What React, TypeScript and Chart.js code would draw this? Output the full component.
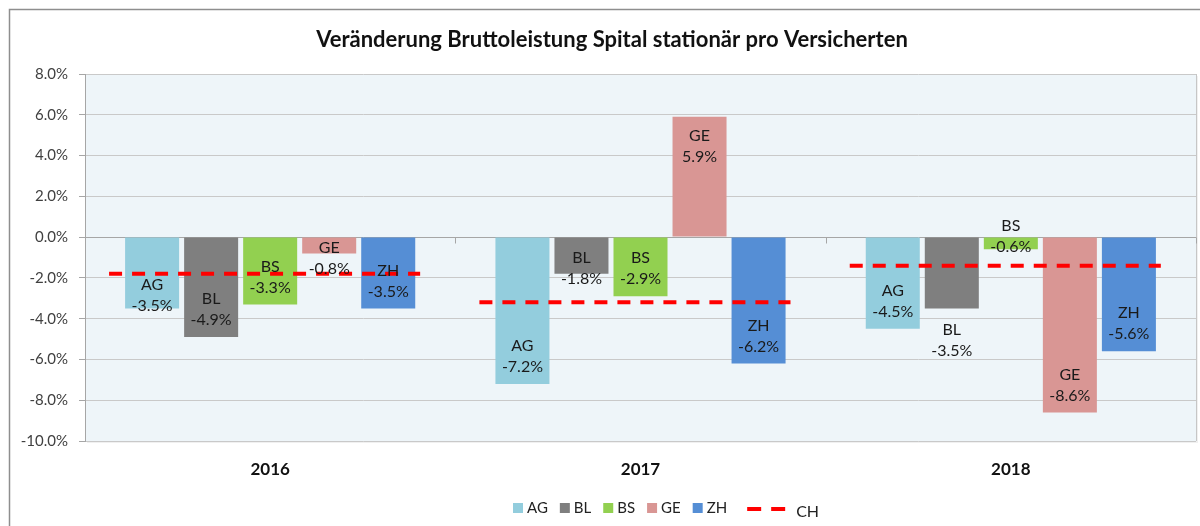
import React, { useEffect, useRef } from "react";
import { Chart, registerables } from "chart.js";

Chart.register(...registerables);

const years = ["2016", "2017", "2018"];
const cantons = ["AG", "BL", "BS", "GE", "ZH"];
const valuesAG = [-3.5, -7.2, -4.5];
const valuesBL = [-4.9, -1.8, -3.5];
const valuesBS = [-3.3, -2.9, -0.6];
const valuesGE = [-0.8, 5.9, -8.6];
const valuesZH = [-3.5, -6.2, -5.6];
const valuesCH = [-1.8, -3.2, -1.4];
const yTicksMin = -10;
const yTicksMax = 8;

const title = "Veränderung Bruttoleistung Spital stationär pro Versicherten";

const colors = ["#93CDDD", "#7F7F7F", "#92D050", "#D99694", "#558ED5"];
const chColor = "#FF0000";
const FONT = "Lato, 'Open Sans', sans-serif";

// manual label nudges (px, down positive) relative to inside-end placement
const labelNudge: Record<string, number> = {
  "AG|0": 14,
  "GE|0": 32,
  "BL|1": 22,
  "BL|2": 59,
  "BS|2": 14,
};

const seriesValues = [valuesAG, valuesBL, valuesBS, valuesGE, valuesZH];

export default function App() {
  const ref = useRef<HTMLCanvasElement | null>(null);

  useEffect(() => {
    document.body.style.margin = "0";
    const canvas = ref.current;
    if (!canvas) return;

    // CH average drawn as a short dashed segment across each year group
    const chLine: any[] = [];
    valuesCH.forEach((v, i) => {
      chLine.push({ x: i - 0.435, y: v });
      chLine.push({ x: i + 0.405, y: v });
      if (i < valuesCH.length - 1) chLine.push({ x: i + 0.5, y: null });
    });

    const frame = {
      id: "frame",
      beforeDraw(chart: any) {
        const { ctx, chartArea: a } = chart;
        ctx.save();
        ctx.fillStyle = "#ffffff";
        ctx.fillRect(0, 0, chart.width, chart.height);
        ctx.strokeStyle = "#8E8E8E";
        ctx.lineWidth = 1.5;
        ctx.strokeRect(9.5, 9.5, 1400, 800);
        ctx.fillStyle = "rgba(0,0,0,0.06)";
        ctx.fillRect(a.left + 2, a.top + 2, a.right - a.left, a.bottom - a.top);
        ctx.fillStyle = "#EEF5F9";
        ctx.fillRect(a.left, a.top, a.right - a.left, a.bottom - a.top);
        ctx.restore();
      },
      beforeDatasetsDraw(chart: any) {
        const { ctx, chartArea: a } = chart;
        const y = chart.scales.y;
        const x = chart.scales.x;
        const y0 = Math.round(y.getPixelForValue(0)) + 0.5;
        ctx.save();
        ctx.strokeStyle = "#C6C6C6";
        ctx.lineWidth = 1;
        ctx.beginPath();
        ctx.moveTo(a.right + 0.5, a.top);
        ctx.lineTo(a.right + 0.5, a.bottom);
        ctx.stroke();
        ctx.strokeStyle = "#A6A6A6";
        ctx.beginPath();
        for (let k = 1; k <= years.length; k++) {
          const px = Math.round(x.getPixelForValue(k - 0.5)) + 0.5;
          ctx.moveTo(px, y0);
          ctx.lineTo(px, y0 + 6);
        }
        ctx.stroke();
        ctx.restore();
      },
      afterDatasetsDraw(chart: any) {
        const { ctx } = chart;
        ctx.save();
        ctx.font = `16px ${FONT}`;
        ctx.fillStyle = "#1A1A1A";
        ctx.textAlign = "center";
        ctx.textBaseline = "middle";
        chart.data.datasets.forEach((ds: any, di: number) => {
          if (ds.type === "line") return;
          const meta = chart.getDatasetMeta(di);
          meta.data.forEach((el: any, i: number) => {
            const v = ds.data[i].y;
            const nudge = labelNudge[`${ds.label}|${i}`] || 0;
            let l1: number, l2: number;
            if (v < 0) {
              l2 = el.y - 17;
              l1 = l2 - 21;
            } else {
              l1 = el.y + 19;
              l2 = l1 + 21;
            }
            ctx.fillText(ds.label, el.x, l1 + nudge);
            ctx.fillText(`${v.toFixed(1)}%`, el.x, l2 + nudge);
          });
        });
        ctx.font = `bold 22px ${FONT}`;
        ctx.fillStyle = "#111111";
        ctx.fillText(title, 612, 40);
        ctx.font = `15px ${FONT}`;
        ctx.textAlign = "left";
        ctx.fillStyle = "#222222";
        let x = 513;
        const ly = 508;
        chart.data.datasets.forEach((ds: any) => {
          if (ds.type === "line") {
            x += 8;
            ctx.strokeStyle = ds.borderColor;
            ctx.lineWidth = 4;
            ctx.setLineDash([14, 10]);
            ctx.beginPath();
            ctx.moveTo(x, ly + 1);
            ctx.lineTo(x + 38, ly + 1);
            ctx.stroke();
            ctx.setLineDash([]);
            ctx.font = `16px ${FONT}`;
            ctx.fillText(ds.label, x + 49, ly + 4);
            return;
          }
          ctx.fillStyle = ds.backgroundColor;
          ctx.fillRect(x, ly - 5, 10, 10);
          ctx.fillStyle = "#222222";
          ctx.fillText(ds.label, x + 14, ly);
          x += 14 + ctx.measureText(ds.label).width + 12;
        });
        ctx.restore();
      },
    };

    const chart = new Chart(canvas, {
      type: "bar",
      data: {
        datasets: [
          ...cantons.map((c, k) => ({
            type: "bar" as const,
            label: c,
            data: seriesValues[k].map((v, i) => ({ x: i, y: v })),
            backgroundColor: colors[k],
            borderWidth: 0,
            order: 1,
            barPercentage: 0.915,
            categoryPercentage: 0.797,
          })),
          {
            type: "line" as const,
            label: "CH",
            data: chLine,
            borderColor: chColor,
            borderWidth: 4,
            borderDash: [13, 10],
            borderCapStyle: "butt",
            pointRadius: 0,
            fill: false,
            spanGaps: false,
            order: 0,
          } as any,
        ],
      },
      options: {
        responsive: false,
        animation: false,
        devicePixelRatio: 1,
        layout: { padding: { top: 74, left: 0, right: 4, bottom: 40 } },
        plugins: {
          legend: { display: false },
          title: { display: false },
          tooltip: { enabled: false },
        },
        scales: {
          x: {
            type: "linear",
            min: -0.5,
            max: 2.5,
            offset: false,
            afterBuildTicks(scale: any) {
              scale.ticks = years.map((_, i) => ({ value: i }));
            },
            grid: { display: false, drawTicks: false },
            border: { display: false },
            ticks: {
              padding: 18,
              color: "#111111",
              font: { family: FONT, size: 17, weight: "bold" },
              callback: (v: any) => years[Math.round(v)] ?? "",
            },
            afterFit(scale: any) {
              scale.height = 45;
            },
          },
          y: {
            type: "linear",
            min: yTicksMin,
            max: yTicksMax,
            ticks: {
              stepSize: 1,
              padding: 11,
              color: "#404040",
              font: { family: FONT, size: 15 },
              callback: (v: any) => (Math.round(v) % 2 === 0 ? `${Number(v).toFixed(1)}%` : ""),
            },
            grid: {
              tickLength: 6,
              lineWidth: 1,
              color: (c: any) => (c.tick && c.tick.value === 0 ? "#A6A6A6" : "#C9C9C9"),
              tickColor: (c: any) =>
                c.tick && Math.round(c.tick.value) % 2 === 0 ? "#A6A6A6" : "rgba(0,0,0,0)",
            },
            border: { display: true, color: "#A6A6A6" },
            afterFit(scale: any) {
              scale.width = 85;
            },
          },
        },
      } as any,
      plugins: [frame],
    });

    return () => chart.destroy();
  }, []);

  return (
    <div style={{ position: "absolute", left: 0, top: 0, width: 1200, height: 526 }}>
      <canvas ref={ref} width={1200} height={526} style={{ display: "block" }} />
    </div>
  );
}
